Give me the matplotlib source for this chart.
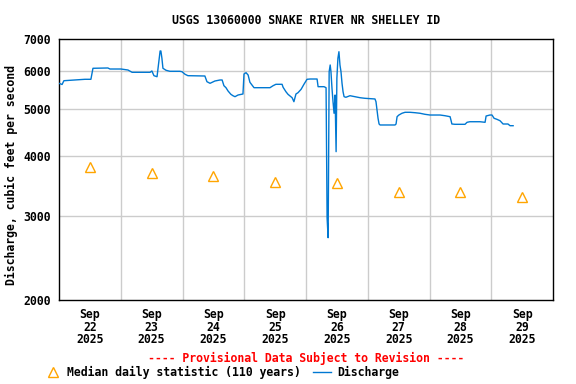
import numpy as np
import pandas as pd
import matplotlib
matplotlib.use("Agg")
import matplotlib.pyplot as plt
from matplotlib.ticker import FixedLocator, NullLocator, FixedFormatter

# discharge, hours after 2025-09-22 00:00 and cfs
hours = [0, 1.2, 1.9, 10.1, 12.4, 13.2, 19.0, 19.8, 24.1, 26.8, 28.4, 35.4, 36.1,
         36.9, 38.1, 39.3, 39.6, 40.0, 40.4, 41.6, 43.1, 47.0, 47.8, 49.0, 50.1,
         56.7, 57.5, 58.7, 60.6, 62.6, 63.4, 64.1, 64.9, 65.7, 66.8, 67.6, 68.4,
         69.6, 71.5, 71.9, 72.7, 73.5, 74.2, 75.0, 75.8, 82.0, 83.2, 84.3, 86.7,
         87.1, 88.2, 89.0, 90.6, 91.3, 92.1, 92.9, 94.1, 95.2, 96.4, 97.6, 100.3,
         100.7, 103.0, 103.8, 104.2, 104.6, 105.0, 105.4, 105.7, 106.1, 106.5,
         106.9, 107.3, 107.7, 108.0, 108.4, 108.8, 109.2, 109.6, 110.0, 110.4,
         110.8, 111.5, 113.1, 117.0, 118.9, 122.8, 123.2, 124.0, 124.4, 124.8,
         130.6, 131.0, 131.4, 132.1, 133.3, 134.5, 136.4, 138.4, 140.3, 142.2,
         144.2, 148.1, 150.0, 152.0, 152.4, 152.7, 153.9, 157.8, 158.6, 159.7,
         163.6, 165.6, 166.0, 167.5, 168.3, 169.1, 170.2, 171.4, 172.6, 174.5,
         175.3, 176.5]
flow = [5659, 5627, 5730, 5769, 5769, 6082, 6091, 6061, 6061, 6032, 5966, 5966, 6004,
        5870, 5841, 6609, 6609, 6381, 6082, 6024, 5995, 5995, 5983, 5909, 5870,
        5861, 5703, 5659, 5722, 5750, 5750, 5594, 5541, 5454, 5368, 5332, 5307,
        5350, 5376, 5918, 5955, 5889, 5687, 5613, 5541, 5541, 5594, 5632, 5632,
        5552, 5435, 5368, 5281, 5181, 5376, 5410, 5499, 5632, 5769, 5777, 5777,
        5568, 5568, 5541, 2965, 2697, 5983, 6179, 5983, 5525, 5181,
        4901, 5350, 4076, 5797, 6381, 6586, 6179, 5983, 5659, 5435,
        5307, 5292, 5332, 5281, 5266, 5249, 5181, 4784, 4655, 4633,
        4633, 4655, 4821, 4860, 4901, 4924, 4924, 4914, 4901, 4877,
        4860, 4860, 4844, 4821, 4729, 4655, 4648, 4648, 4693, 4706,
        4706, 4693, 4837, 4860, 4860, 4784, 4761, 4729, 4655, 4655,
        4617, 4617]

days = ["22", "23", "24", "25", "26", "27", "28", "29"]
median = [3787, 3680, 3627, 3524, 3507, 3359, 3359, 3279]

start = pd.Timestamp("2025-09-22 00:00")
t = start + pd.to_timedelta(hours, unit="h")
noon = [pd.Timestamp(f"2025-09-{d} 12:00") for d in days]
midnight = [pd.Timestamp(f"2025-09-{d} 00:00") for d in days[1:]]

font = "DejaVu Sans Mono"
fs = 8.3

fig = plt.figure(figsize=(5.76, 3.84), dpi=100)
ax = fig.add_axes([59/576, 1-300/384, 494/576, 261/384])

ax.plot(t, flow, color="#0078d2", lw=1.0, zorder=3)
ax.plot(noon, median, linestyle="none", marker="^", markersize=7,
        markerfacecolor="none", markeredgecolor="#ffa500", markeredgewidth=1.0, zorder=4)

ax.set_yscale("log")
ax.set_ylim(2000, 7000)
ax.set_xlim(start, pd.Timestamp("2025-09-30 00:00"))

yt = [2000, 3000, 4000, 5000, 6000, 7000]
ax.yaxis.set_major_locator(FixedLocator(yt))
ax.yaxis.set_major_formatter(FixedFormatter([str(v) for v in yt]))
ax.yaxis.set_minor_locator(NullLocator())
for v in yt[1:-1]:
    ax.axhline(v, color="#cccccc", lw=1, zorder=1)
for m in midnight:
    ax.axvline(m, color="#cccccc", lw=1, zorder=1)

ax.set_xticks(noon)
ax.set_xticklabels([f"Sep\n{d}\n2025" for d in days])
ax.tick_params(length=0, pad=6)
for lab in ax.get_xticklabels() + ax.get_yticklabels():
    lab.set_fontfamily(font)
    lab.set_fontweight("bold")
    lab.set_fontsize(fs)
    lab.set_linespacing(0.95)
for s in ax.spines.values():
    s.set_linewidth(1)

ax.set_ylabel("Discharge, cubic feet per second", fontfamily=font,
              fontweight="bold", fontsize=fs)
ax.yaxis.set_label_coords(-0.083, 0.479)
fig.text(306/576, 1-20/384, "USGS 13060000 SNAKE RIVER NR SHELLEY ID",
         ha="center", va="center", fontfamily=font, fontweight="bold", fontsize=fs)
fig.text(306/576, 1-358/384, "---- Provisional Data Subject to Revision ----",
         ha="center", va="center", fontfamily=font, fontweight="bold",
         fontsize=fs, color="red")

# legend row
fig.lines.append(plt.Line2D([53/576], [1-372/384], marker="^", markersize=7,
                            markerfacecolor="none", markeredgecolor="#ffa500",
                            transform=fig.transFigure, linestyle="none"))
fig.text(67/576, 1-372/384, "Median daily statistic (110 years)", ha="left",
         va="center", fontfamily=font, fontweight="bold", fontsize=fs)
fig.lines.append(plt.Line2D([313/576, 331/576], [1-372/384, 1-372/384],
                            color="#0078d2", lw=1, transform=fig.transFigure))
fig.text(337/576, 1-372/384, "Discharge", ha="left", va="center",
         fontfamily=font, fontweight="bold", fontsize=fs)

fig.savefig("out.png", dpi=100)
